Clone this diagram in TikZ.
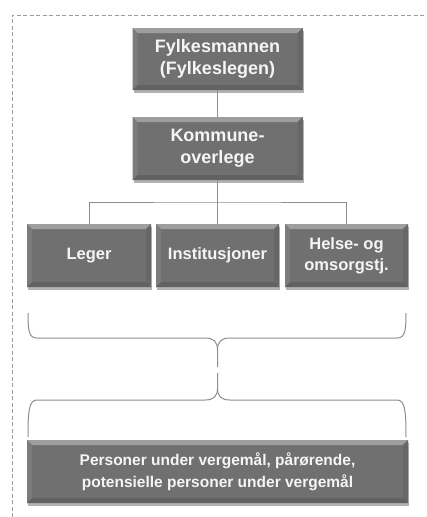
\documentclass[tikz,border=0pt]{standalone}
\usepackage{fontspec}
\setmainfont{Liberation Sans}
\usetikzlibrary{shadows}
\definecolor{boxgray}{HTML}{707070}
\definecolor{bevellight}{HTML}{9E9E9E}
\definecolor{bevelside}{HTML}{7C7C7C}
\definecolor{beveldark}{HTML}{676767}
\definecolor{bevelbottom}{HTML}{626262}
\definecolor{linegray}{HTML}{8E8E8E}
\definecolor{framegray}{HTML}{9C9C9C}
\begin{document}
\begin{tikzpicture}[x=1pt,y=-1pt,
  orgbox/.style={fill=boxgray, text=white!96!black, align=center, inner sep=0pt,
    drop shadow={shadow xshift=1pt, shadow yshift=-2.5pt, opacity=0.3, fill=black},
    path picture={
      \fill[bevellight] (path picture bounding box.north west) -- (path picture bounding box.north east)
        -- ([xshift=-5pt,yshift=-5pt]path picture bounding box.north east)
        -- ([xshift=5pt,yshift=-5pt]path picture bounding box.north west) -- cycle;
      \fill[bevelside] (path picture bounding box.north west) -- ([xshift=5pt,yshift=-5pt]path picture bounding box.north west)
        -- ([xshift=5pt,yshift=5pt]path picture bounding box.south west) -- (path picture bounding box.south west) -- cycle;
      \fill[beveldark] (path picture bounding box.north east) -- ([xshift=-5pt,yshift=-5pt]path picture bounding box.north east)
        -- ([xshift=-5pt,yshift=5pt]path picture bounding box.south east) -- (path picture bounding box.south east) -- cycle;
      \fill[bevelbottom] (path picture bounding box.south west) -- ([xshift=5pt,yshift=5pt]path picture bounding box.south west)
        -- ([xshift=-5pt,yshift=5pt]path picture bounding box.south east) -- (path picture bounding box.south east) -- cycle;
    }},
  bigtext/.style={font=\bfseries\fontsize{18}{22}\selectfont},
  midtext/.style={font=\bfseries\fontsize{16.5}{21}\selectfont},
  lowtext/.style={font=\bfseries\fontsize{15.5}{22}\selectfont},
  conn/.style={draw=linegray, line width=0.9pt},
  bracepath/.style={draw=linegray, line width=1pt}]
\useasboundingbox (0,0) rectangle (427,517);
\fill[white] (0,0) rectangle (427,517);
\draw[framegray, line width=0.8pt, dash pattern=on 4pt off 2.5pt] (12,517) -- (12,15) -- (425,15);

\node[orgbox, bigtext, minimum width=170pt, minimum height=62pt] (fylke) at (217.5,59) {Fylkesmannen\\(Fylkeslegen)};
\node[orgbox, bigtext, minimum width=170pt, minimum height=63pt] (kommune) at (217.5,148.5) {Kommune-\\overlege};
\node[orgbox, midtext, minimum width=124pt, minimum height=63pt] (leger) at (89,255.5) {Leger};
\node[orgbox, midtext, minimum width=123pt, minimum height=63pt] (inst) at (217.5,255.5) {Institusjoner};
\node[orgbox, midtext, minimum width=123pt, minimum height=63pt] (helse) at (346.5,255.5) {Helse- og\\omsorgstj.};
\node[orgbox, lowtext, minimum width=381pt, minimum height=63pt] (personer) at (217.5,471.5) {Personer under vergemål, pårørende,\\potensielle personer under vergemål};

\coordinate (split) at (217.5,202);
\draw[conn] (fylke.south) -- (kommune.north);
\draw[conn] (kommune.south) -- (split);
\draw[conn] (leger.north) |- (split) -| (helse.north);
\draw[conn] (split) -- (inst.north);

% upper brace
\coordinate (b1l) at (28,313);
\coordinate (b1r) at (406,313);
\coordinate (b1tip) at (217.5,367);
\draw[bracepath] (b1l) .. controls (28,331) and (29,338) .. (37,338) -- (205,338)
  .. controls (214,338) and (217.5,342) .. (217.5,350) -- (b1tip);
\draw[bracepath] (b1r) .. controls (406,331) and (405,338) .. (397,338) -- (230,338)
  .. controls (221,338) and (217.5,342) .. (217.5,350);
% lower brace
\coordinate (b2l) at (28,437);
\coordinate (b2r) at (406,437);
\coordinate (b2tip) at (217.5,373);
\draw[bracepath] (b2l) .. controls (28,411) and (29,400) .. (37,400) -- (205,400)
  .. controls (214,400) and (217.5,396) .. (217.5,388) -- (b2tip);
\draw[bracepath] (b2r) .. controls (406,411) and (405,400) .. (397,400) -- (230,400)
  .. controls (221,400) and (217.5,396) .. (217.5,388);
\end{tikzpicture}
\end{document}
